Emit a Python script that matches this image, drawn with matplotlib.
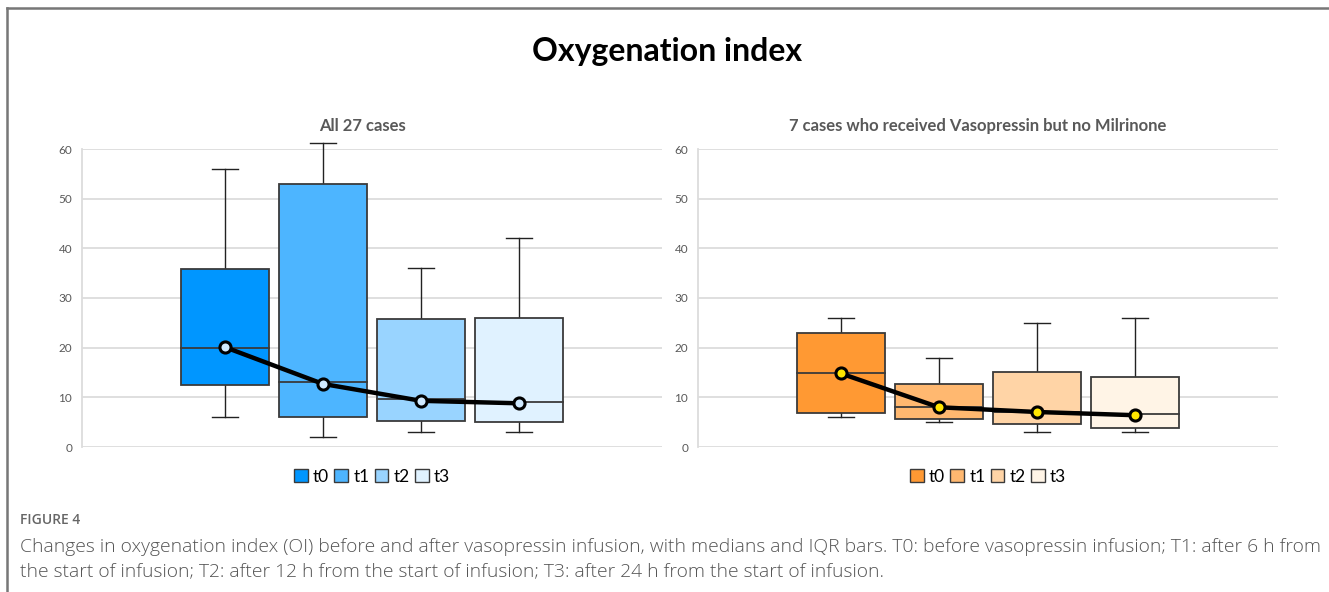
import matplotlib
matplotlib.use("Agg")
from matplotlib import pyplot as plt
from matplotlib.patches import Rectangle
from matplotlib.lines import Line2D

# values (whisker low, Q1, median, Q3, whisker high)
series = ["t0", "t1", "t2", "t3"]

all_low = [6, 2, 3, 3]
all_q1 = [12.5, 6, 5.2, 5]
all_med = [20, 13, 9.6, 9]
all_q3 = [35.8, 53, 25.8, 26]
all_high = [56, 61.2, 36, 42]
all_trend = [20.1, 12.7, 9.3, 8.8]

vaso_low = [6, 5, 3, 3]
vaso_q1 = [6.8, 5.7, 4.6, 3.8]
vaso_med = [15, 8, 7.1, 6.6]
vaso_q3 = [23, 12.7, 15.2, 14.1]
vaso_high = [26, 18, 25, 26]
vaso_trend = [14.8, 8.0, 7.05, 6.4]

blues = ["#0096ff", "#4db5ff", "#99d4ff", "#e0f2ff"]
oranges = ["#ff9933", "#ffb870", "#ffd4a6", "#fff4e6"]

W, H = 1329, 592
fig = plt.figure(figsize=(W / 100, H / 100), dpi=100)

txt_gray = "#595959"
FONT = "Lato"


def draw_panel(ax, low, q1, med, q3, high, trend, colors, marker_face):
    step = 0.169
    bw = 0.153
    cap = 0.045
    xs = [(i - 1.5) * step for i in range(len(series))]
    for i, x in enumerate(xs):
        ax.add_patch(Rectangle((x - bw / 2, q1[i]), bw, q3[i] - q1[i],
                               facecolor=colors[i], edgecolor="#3a3a3a",
                               linewidth=1.3, zorder=3))
        ax.plot([x - bw / 2, x + bw / 2], [med[i], med[i]], color="#3a3a3a", lw=1.3, zorder=4)
        # whiskers may poke above the 60 line, so no clipping
        ax.plot([x, x], [q3[i], high[i]], color="#222222", lw=1.0, zorder=2, clip_on=False)
        ax.plot([x, x], [low[i], q1[i]], color="#222222", lw=1.0, zorder=2, clip_on=False)
        ax.plot([x - cap / 2, x + cap / 2], [high[i], high[i]], color="#222222", lw=1.0, zorder=2, clip_on=False)
        ax.plot([x - cap / 2, x + cap / 2], [low[i], low[i]], color="#222222", lw=1.0, zorder=2, clip_on=False)
    ax.plot(xs, trend, color="black", lw=3.2, zorder=5, marker="o", markersize=8,
            markerfacecolor=marker_face, markeredgecolor="black", markeredgewidth=2.2)

    ax.set_xlim(-0.5, 0.5)
    ax.set_ylim(0, 60)
    ax.set_yticks(range(0, 61, 10))
    ax.set_xticks([])
    ax.grid(axis="y", color="#dcdcdc", lw=1.3, zorder=0)
    for s in ["top", "right", "bottom"]:
        ax.spines[s].set_visible(False)
    ax.spines["left"].set_color("#dcdcdc")
    ax.spines["left"].set_linewidth(1.3)
    ax.tick_params(axis="y", length=0, pad=7, labelsize=8.5, labelcolor=txt_gray)
    for lab in ax.get_yticklabels():
        lab.set_fontfamily(FONT)

    handles = [Rectangle((0, 0), 1, 1, facecolor=c, edgecolor="#3a3a3a", lw=1.0) for c in colors]
    ax.legend(handles, series, loc="center", bbox_to_anchor=(0.5, -0.1), ncol=4,
              frameon=False, handlelength=0.8, handleheight=0.8, handletextpad=0.3,
              columnspacing=0.3, prop={"family": FONT, "size": 12.5})


ax_bottom = 1 - 447 / H
ax_height = (447 - 149) / H
ax1 = fig.add_axes([82 / W, ax_bottom, 580 / W, ax_height])
ax2 = fig.add_axes([698 / W, ax_bottom, 580 / W, ax_height])

draw_panel(ax1, all_low, all_q1, all_med, all_q3, all_high, all_trend, blues, "#cfe9ff")
draw_panel(ax2, vaso_low, vaso_q1, vaso_med, vaso_q3, vaso_high, vaso_trend, oranges, "#ffe600")

fig.text(667 / W, 1 - 52 / H, "Oxygenation index", ha="center", va="center",
         fontsize=23, fontweight="bold", family=FONT, color="black")
fig.text(362 / W, 1 - 126 / H, "All 27 cases", ha="center", va="center",
         fontsize=12, fontweight="bold", family=FONT, color=txt_gray)
fig.text(978 / W, 1 - 126 / H, "7 cases who received Vasopressin but no Milrinone", ha="center",
         va="center", fontsize=12, fontweight="bold", family=FONT, color=txt_gray)

# frame around the figure panel
fig.add_artist(Line2D([7 / W, 1], [1 - 8 / H, 1 - 8 / H], color="#777777", lw=1.8))
fig.add_artist(Line2D([7 / W, 7 / W], [0, 1 - 8 / H], color="#777777", lw=1.8))

fig.text(20 / W, 1 - 520 / H, "FIGURE 4", ha="left", va="center", fontsize=10,
         family="Open Sans", fontweight="semibold", color="#666666")
fig.text(20 / W, 1 - 547 / H,
         "Changes in oxygenation index (OI) before and after vasopressin infusion, with medians and IQR bars. "
         "T0: before vasopressin infusion; T1: after 6 h from",
         ha="left", va="center", fontsize=13.9, family="Open Sans", fontweight="light", color="#555555")
fig.text(20 / W, 1 - 571 / H,
         "the start of infusion; T2: after 12 h from the start of infusion; T3: after 24 h from the start of infusion.",
         ha="left", va="center", fontsize=13.9, family="Open Sans", fontweight="light", color="#555555")

fig.savefig("out.png", dpi=100, facecolor="white")
